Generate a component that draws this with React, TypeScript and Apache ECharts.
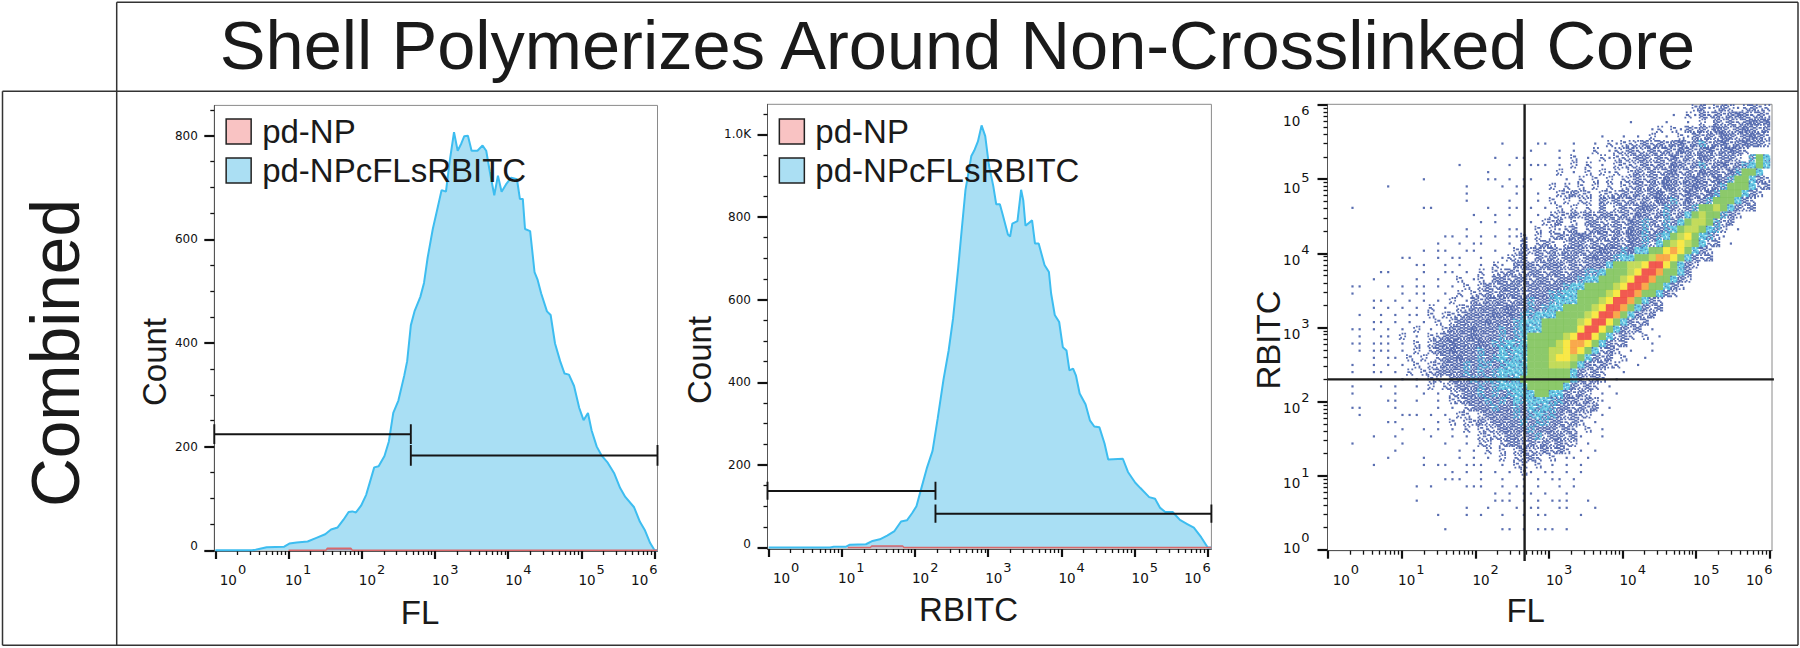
import React, { useEffect, useRef } from "react";
import * as echarts from "echarts";

// Values are given on the decade scale: 0 = 10^0, 6 = 10^6.
const legendNames = ["pd-NP", "pd-NPcFLsRBITC"];
const decades = [0, 1, 2, 3, 4, 5, 6];
const exponents = ["0", "1", "2", "3", "4", "5", "6"];
const minorFactors = [2, 3, 4, 5, 6, 7, 8, 9];
const xLabelPositions = [0.24, 1.13, 2.14, 3.14, 4.14, 5.14, 5.86];
const yLogLabelPositions = [0.1, 0.97, 1.98, 2.98, 3.98, 4.95, 5.85];

const flCurve = [
  [0, 0], [0.5, 0], [0.55, 1], [0.7, 6], [0.94, 7], [1.01, 13], [1.11, 15], [1.26, 17], [1.38, 24], [1.5, 31],
  [1.58, 40], [1.67, 44], [1.75, 59], [1.82, 74], [1.87, 75], [1.92, 73], [1.99, 86], [2.06, 107], [2.11, 131],
  [2.17, 160], [2.23, 162], [2.31, 182], [2.37, 210], [2.43, 265], [2.5, 289], [2.58, 337], [2.62, 365], [2.67, 434],
  [2.72, 461], [2.8, 489], [2.85, 516], [2.9, 565], [2.97, 620], [3.03, 657], [3.09, 695], [3.15, 692], [3.2, 750],
  [3.26, 807], [3.31, 771], [3.36, 785], [3.4, 799], [3.45, 800], [3.5, 771], [3.58, 771], [3.65, 781], [3.7, 771],
  [3.75, 730], [3.81, 685], [3.86, 723], [3.91, 692], [3.97, 706], [4.04, 719], [4.12, 716], [4.16, 678], [4.2, 678],
  [4.23, 620], [4.3, 616], [4.36, 537], [4.4, 523], [4.45, 496], [4.53, 461], [4.58, 454], [4.64, 399], [4.71, 365],
  [4.77, 341], [4.83, 339], [4.9, 317], [4.97, 275], [5.03, 251], [5.09, 265], [5.14, 231], [5.21, 200], [5.28, 182],
  [5.36, 169], [5.45, 148], [5.53, 120], [5.6, 103], [5.72, 83], [5.8, 55], [5.87, 38], [5.94, 14], [6, 0], [6.04, 0],
];
const rbitcCurve = [
  [0, 0], [0.84, 0], [0.89, 2], [1.06, 2], [1.11, 7], [1.33, 8], [1.42, 16], [1.52, 20], [1.62, 29], [1.72, 40],
  [1.81, 63], [1.89, 66], [1.96, 83], [2.02, 100], [2.08, 139], [2.16, 191], [2.24, 234], [2.31, 312], [2.39, 407],
  [2.46, 477], [2.52, 554], [2.59, 676], [2.63, 753], [2.69, 866], [2.77, 948], [2.81, 961], [2.86, 983], [2.91, 1022],
  [2.96, 996], [3.01, 926], [3.07, 875], [3.11, 831], [3.16, 831], [3.2, 805], [3.27, 758], [3.3, 753], [3.33, 784],
  [3.4, 790], [3.45, 866], [3.48, 840], [3.51, 779], [3.6, 792], [3.64, 736], [3.69, 736], [3.77, 684], [3.83, 667],
  [3.86, 615], [3.91, 563], [3.97, 546], [4.02, 485], [4.07, 477], [4.11, 429], [4.16, 433], [4.2, 416], [4.25, 373],
  [4.33, 347], [4.39, 308], [4.45, 293], [4.52, 291], [4.59, 252], [4.64, 213], [4.84, 215], [4.91, 183], [5.01, 157],
  [5.08, 144], [5.2, 122], [5.28, 118], [5.35, 96], [5.42, 86], [5.52, 86], [5.62, 67], [5.72, 57], [5.81, 48],
  [5.91, 25], [6, 0], [6.05, 0],
];
const controlFl = [[1, 0], [1.51, 0], [1.53, 4], [1.85, 4], [1.87, 0], [6.04, 0]];
const controlRbitc = [[1.08, 0], [1.39, 0], [1.41, 4], [1.83, 4], [1.85, 0], [6.05, 0]];

const gateFlLow = [[-0.015, 205], [-0.015, 243], [-0.015, 224], [2.67, 224], [2.67, 243], [2.67, 205]];
const gateFlHigh = [[2.67, 163], [2.67, 203], [2.67, 183], [6.04, 183], [6.04, 203], [6.04, 163]];
const gateRbitcLow = [[-0.015, 116], [-0.015, 159], [-0.015, 137], [2.28, 137], [2.28, 159], [2.28, 116]];
const gateRbitcHigh = [[2.28, 60], [2.28, 104], [2.28, 82], [6.05, 82], [6.05, 104], [6.05, 60]];
const crossVertical = [[2.67, -0.15], [2.67, 6.009]];
const crossHorizontal = [[-0.01, 2.3], [6.06, 2.3]];

const countTicksFl = [0, 200, 400, 600, 800];
const countMinorFl = [50, 100, 150, 250, 300, 350, 450, 500, 550, 650, 700, 750, 850];
const countLabelPosFl = [8, 200, 400, 600, 800];
const countLabelsFl = ["0", "200", "400", "600", "800"];
const countTicksRb = [0, 200, 400, 600, 800, 1000];
const countMinorRb = [50, 100, 150, 250, 300, 350, 450, 500, 550, 650, 700, 750, 850, 900, 950, 1050];
const countLabelPosRb = [9, 200, 400, 600, 800, 1000];
const countLabelsRb = ["0", "200", "400", "600", "800", "1.0K"];

// Density plot read cell by cell: each row (top to bottom) lists "firstColumn:levels".
// Levels: 1-4 blue, growing; 6 blue with cyan; 5 cyan; 7 green; 8 yellow-green; 9 yellow; o orange; r red; '.' empty.
const densityRows = [
  "51:23123212322",
  "48:1.213232343232",
  "42:1....1..1.2.32323434",
  "44:.12.21323243234323",
  "38:1..1.1.2.1.2132324323432",
  "24:1 29:1 30:1 34:1..1.2 40:1222 44:323234236234234332",
  "28:1 32:1.1..2.1.2.3 40:223 43:2232324323423432",
  "23:1 26:1 27:1 31:.1.2.1.2.2 39:1.2232 44:32324232432332 59:6 60:7 61:5",
  "18:1 25:1 28:1 29:1 30:1.1.2.2.1.2 41:2223232432362342 57:3 58:6575",
  "22:1 31:.2.1.2.1.2 38:212.232323423243 54:324 57:6775",
  "13:1 22:1 23:1 25:1 27:1 28:1 33:1.2.2.2.2 42:2323243234 52:3243 56:6775 60:32",
  "8:1 19:1 24:1 26:1 27:1 31:2.2.2.2.2.2 42:2323243234 52:323 55:67775 60:23",
  "19:1 26:1 29:1 31:.22322.222 41:3232342324 51:324 54:67775 59:32",
  "19:1 25:1 29:1 31:2.2.22.32 40:32323243624 51:23 53:67775 58:32",
  "3:1 13:1 14:1 22:1 25:1 26:1 28:1 30:1.2.2.2.3.2 41:323432632 50:3 51:6 52:7787 56:5 57:323",
  "20:1 23:1 25:1 29:1 31:22232323 39:3 40:2324323623 50:57877 55:6 56:32",
  "21:1 23:1 28:1 29:.223.2.3 37:32 39:23243632 47:63 49:57887 54:6 55:23",
  "19:1 25:1 26:1 29:2.2123.2 37:33 39:2324362 46:36 48:578875 54:62 57:1",
  "16:1 17:1 19:1 21:1 23:1 25:1 26:1 27:2 28:.2.232343 37:232 40:32436 45:3 46:6 47:578975 53:62 55:1",
  "15:1 18:1 20:1 21:1 25:1 27:3 28:.232.2332 37:323 40:3243 44:62 46:5789875 53:23 56:1",
  "13:1 15:1 16:1 19:1 20:1 23:1 26:232 28:.32323332 37:343 40:364 43:55779o975 52:32",
  "10:1 11:1 15:1 17:1 18:1 21:1 24:1 25:223 28:.3232332 36:3433 40:6 41:55778 46:oo975 51:323",
  "12:1 13:1 16:1 18:1 21:1 23:21.3 27:3 28:32333232 36:33 38:3 39:57788 44:9 45:rr 47:975 50:32",
  "7:1 8:1 13:1 16:1 17:1 19:1 21:2.223 26:2 27:233233233 36:6 37:6 38:57 40:778 43:9 44:rr 46:o 47:775 50:3",
  "6:1 12:1 15:1 18:2.12.3 24:3 25:233233233 34:362 36:55 38:77 40:78 42:9 43:rr 45:o 46:775 49:32",
  "3:1 4:1 8:1 10:1 12:1 13:1 15:1.1.2.22 22:3 23:2333233333 33:65 35:5 36:77 38:778 41:9 42:rr 44:o 45:775 48:32",
  "3:1 10:1 12:1 13:1 16:1.2.22.3 22:3 23:233323336 32:65 34:57 36:7778 40:9 41:rr 43:o 44:775 47:32",
  "6:1 7:1 9:1 11:1 13:1.1.2.1.22 20:3 21:2333233 28:6336 32:5 33:55 35:77 37:78 39:9 40:rr 42:o 43:75 45:32",
  "6:1 8:1 10:1 12:1.2.1.22 19:2 20:33333433 28:636 31:55 33:777 36:78 38:9 39:rr 41:o 42:75 44:323",
  "4:1 7:1 9:1 11:1 12:1.2.222 19:3 20:3334343 27:6 28:65 30:55 32:7777 36:8 37:9 38:rr 40:o 41:75 43:323",
  "6:1 7:1 9:1 11:1.1.2.22 18:3 19:33343 24:3363 27:55 29:5 30:7 31:7777 35:8 36:9 37:rr 39:975 42:323",
  "3:1 4:1 6:1 8:1.1.2.1.22 17:3 18:3343 22:3363 26:65 28:55 30:77777 35:9 36:rr 38:975 41:323 45:1",
  "4:1 7:1 8:1.2.1.22 15:2 16:33 18:3343 22:33 24:636 27:5 28:77777 33:8 34:9 35:rr 37:975 40:232 44:2 46:1",
  "3:1 4:1 6:1 7:1 8:1.1.2.22 15:3 16:3433 20:3436 24:656 27:5 28:77777 32:8 33:9 34:oo 36:975 39:323 45:1",
  "4:1 6:1 7:1 8:1.1.2.22 14:2 15:3343 19:3 20:3633 24:565 27:5 28:777 31:88 33:9o9 36:75 38:232 42:1 45:1",
  "6:1 8:1 9:1.2.2.2 15:2 16:3 17:343 20:36 22:36 24:565 27:5 28:777 31:899 34:8 35:75 37:323 41:2 44:1",
  "3:1 6:1 8:1.1.2.2 15:2 16:33 18:36 20:36 22:63 24:655 27:5 28:777 31:888 34:75 36:3232 40:2 43:1",
  "3:1 6:1 7:1 9:1.2.22 15:33 17:33 19:63 21:636 24:5 25:5 26:55 28:777777 34:5 35:3232 41:1",
  "10:1 12:1.22.3 17:33 19:36 21:36 23:656 26:5 27:7777777 34:5 35:3232 40:1",
  "3:1 7:1 9:1 12:1.2.2 17:23 19:3363 23:65 25:55 27:5 28:77777 33:5 34:3232 39:1",
  "3:1 9:1 13:1.1.2 18:2 19:3363 23:636 26:5 27:55 29:77 31:55 33:3232 38:1 40:1",
  "8:1 9:1 12:1 14:.1.2 18:2 19:3336 23:363 26:565 29:5 30:56 32:633 35:232 38:1",
  "3:1 4:1 9:1 15:1.1.2 20:3336 24:3363 28:565 31:63 33:323 36:23 39:1",
  "4:1 10:1 11:1 12:1 14:1.1.2 19:2.2 22:3333 26:63 28:656 31:6 32:323 35:22 38:1",
  "8:1 9:1 15:1.2.1 19:2 20:2323 24:3336 28:36 30:63 32:323 35:2 37:1",
  "10:1 13:1 15:1 17:1.2.2 22:22 24:3333 28:63 30:33 31:3232 35:.2 38:1",
  "6:1 9:1 14:1 17:1.1.2 22:22 24:23 26:32 28:3 29:623 32:323 35:1 38:1",
  "3:1 10:1 16:1 19:1.2 22:2.23 26:3 27:2 28:323 31:232 34:2 36:1",
  "9:1 18:1 20:1.2 23:.2.2 27:32 29:23 31:23 33:2 35:1.1",
  "8:1 13:1 18:1 20:1.1.2 25:.2 27:23 29:2.2 32:.1 34:1 36:1",
  "6:1 13:1 15:1 16:1 19:1 20:1 21:1 24:1.2 27:2 28:.2.1 31:1.1 33:1 35:1",
  "17:1 19:1 21:1 23:1 25:1.1 27:2 28:1.1 31:1.1.1 35:1",
  "16:1 17:1 18:1 21:1 24:1 27:1 29:1.1 32:1.1 34:1",
  "12:1 14:1 19:1 20:1 21:1 24:1 26:1 27:1 29:1 32:1 34:1",
  "23:1 25:1 27:1 28:1 30:1 33:1",
  "12:1 23:1 24:1 25:1 27:1 29:1 31:1 32:1 33:1 36:1",
  "19:1 22:1 26:1 28:1 29:1 32:1 33:1 37:1",
  "15:1 19:1 21:1 24:1 27:1 29:1 30:1 35:1",
  "",
  "16:1 24:1 25:1 27:1 29:1 30:1 31:1 33:1",
];

const levelOrder = ["1", "2", "3", "4", "5", "7", "8", "9", "o", "r"];
const CYAN_SPECK = 10;
const CYAN_DENSE = 11;
const levelColors = ["#2f4a9e", "#2f4a9e", "#2f4a9e", "#2f4a9e", "#4cc1de", "#6fbc46", "#b4d233", "#f6e21a", "#f7941f", "#ee3124", "#4fcbe6", "#4fc6e2"];
const levelSizes = [2.2, 7.2, 7.2, 7.2, 7.4, 7.4, 7.4, 7.4, 7.4, 7.4, 7.2, 7.2];
const DENSITY_COLUMNS = 62;
const DENSITY_X0 = -0.01;
const DENSITY_Y0 = 6.009;
const CELL_W = 20 / 206;
const CELL_H = 20 / 207.7;

// Speck tiles for the blue cloud (cells of a 5x5 tile, "xy").
const sparseTiles = [
  ["00", "21", "43", "14", "31", "02", "44"],
  ["40", "12", "33", "04", "22", "10", "44"],
  ["20", "01", "42", "34", "13", "40", "04"],
];
const mediumTiles = [
  ["00", "30", "40", "11", "21", "02", "32", "42", "13", "23", "04", "34", "44"],
  ["10", "30", "40", "01", "21", "02", "32", "42", "13", "23", "04", "14", "34"],
  ["00", "10", "31", "41", "12", "22", "03", "33", "43", "04", "24", "20", "44"],
];
const denseHoles = [
  ["11", "30", "23", "42", "04", "34", "22"],
  ["00", "21", "13", "44", "32", "40", "14"],
  ["20", "02", "33", "41", "14", "24", "12"],
];
const tilePath = (cells: string[]) =>
  "path://" + cells.map((s) => `M${s[0]} ${s[1]}h1.35v1.35h-1.35z`).join("");
const allTileCells = [0, 1, 2, 3, 4].flatMap((x) => [0, 1, 2, 3, 4].map((y) => `${x}${y}`));
const sparsePaths = sparseTiles.map(tilePath);
const mediumPaths = mediumTiles.map(tilePath);
const densePaths = denseHoles.map((holes) => tilePath(allTileCells.filter((s) => !holes.includes(s))));

function densitySymbol(v: number[]) {
  const level = v[2];
  const variant = v[3];
  if (level === 1 || level === CYAN_SPECK) return sparsePaths[variant];
  if (level === 2) return mediumPaths[variant];
  if (level === 3 || level === CYAN_DENSE) return densePaths[variant];
  return "rect";
}

function densityPoints() {
  const out: number[][] = [];
  densityRows.forEach((row, r) => {
    const cells = new Map<number, string>();
    row.split(" ").filter(Boolean).forEach((seg) => {
      const [start, chars] = seg.split(":");
      [...chars].forEach((ch, i) => {
        const c = Number(start) + i;
        if (ch !== "." && c < DENSITY_COLUMNS) cells.set(c, ch);
      });
    });
    cells.forEach((ch, c) => {
      const x = DENSITY_X0 + (c + 0.5) * CELL_W;
      const y = DENSITY_Y0 - (r + 0.5) * CELL_H;
      const variant = (c * 7 + r * 5) % 3;
      if (ch === "6") {
        out.push([x, y, 2, variant]);
        out.push([x, y, CYAN_SPECK, (variant + 1) % 3]);
      } else if (ch === "5") {
        out.push([x, y, 1, variant]);
        out.push([x, y, CYAN_DENSE, (variant + 1) % 3]);
      } else {
        out.push([x, y, levelOrder.indexOf(ch), variant]);
      }
    });
  });
  return out;
}

const FONT = "Liberation Sans";
const TICK_FONT = "DejaVu Sans";
const minorLog = decades.slice(0, 6).flatMap((d) => minorFactors.map((f) => d + Math.log10(f)));

const richLabels = {
  b: { fontFamily: TICK_FONT, fontSize: 13.5, color: "#111", lineHeight: 24, verticalAlign: "bottom" },
  s: { fontFamily: TICK_FONT, fontSize: 13, color: "#111", lineHeight: 14, verticalAlign: "top", padding: [0, 0, 0, 1] },
};
const powerLabel = (positions: number[]) => (v: number) => `{b|10}{s|${exponents[positions.indexOf(v)]}}`;

function tickAxis(kind: "x" | "y", o: any) {
  const tickLen = kind === "x" ? 8 : 10;
  return {
    type: "value",
    gridIndex: o.grid,
    min: o.min,
    max: o.max,
    position: kind === "x" ? "bottom" : "left",
    splitLine: { show: false },
    axisLine: { show: !o.minor, onZero: false, lineStyle: { color: "#555", width: 1 } },
    axisTick: {
      show: true,
      inside: false,
      length: o.minor ? 4 : tickLen,
      customValues: o.ticks,
      lineStyle: { color: "#111", width: o.minor ? 1.3 : 2.2 },
    },
    axisLabel: o.minor
      ? { show: false }
      : {
          show: true,
          customValues: o.labelAt,
          formatter: o.formatter,
          margin: o.margin,
          hideOverlap: false,
          showMinLabel: true,
          showMaxLabel: true,
          fontFamily: TICK_FONT,
          fontSize: 12,
          color: "#111",
          rich: richLabels,
        },
  };
}

function xAxes(grid: number, min: number, max: number) {
  return [
    tickAxis("x", { grid, min, max, ticks: decades, labelAt: xLabelPositions, formatter: powerLabel(xLabelPositions), margin: 12 }),
    tickAxis("x", { grid, min, max, ticks: minorLog, minor: true }),
  ];
}

function yCountAxes(grid: number, min: number, max: number, ticks: number[], minor: number[], at: number[], labels: string[]) {
  return [
    tickAxis("y", { grid, min, max, ticks, labelAt: at, formatter: (v: number) => labels[at.indexOf(v)], margin: 16.5 }),
    tickAxis("y", { grid, min, max, ticks: minor, minor: true }),
  ];
}

function histogram(idx: number, control: number[][], curve: number[][], gates: number[][][]) {
  const ref = { xAxisIndex: idx * 2, yAxisIndex: idx * 2 };
  return [
    {
      name: legendNames[1],
      type: "line",
      ...ref,
      data: curve,
      showSymbol: false,
      silent: true,
      clip: true,
      lineStyle: { color: "#3dbdf0", width: 2 },
      areaStyle: { color: "#a9dff4", opacity: 1 },
      z: 2,
    },
    {
      name: legendNames[0],
      type: "line",
      ...ref,
      data: control,
      showSymbol: false,
      silent: true,
      lineStyle: { color: "#d9686a", width: 1.4 },
      areaStyle: { color: "#a8607f", opacity: 0.7 },
      z: 3,
    },
    ...gates.map((g) => ({
      type: "line",
      ...ref,
      data: g,
      showSymbol: false,
      silent: true,
      clip: false,
      lineStyle: { color: "#151515", width: 1.9 },
      z: 5,
    })),
  ];
}

function legendFor(left: number, top: number) {
  return {
    left,
    top,
    orient: "vertical",
    padding: 0,
    itemWidth: 25,
    itemHeight: 25,
    itemGap: 6,
    selectedMode: false,
    z: 8,
    textStyle: { fontFamily: FONT, fontSize: 33, color: "#1a1a1a", lineHeight: 25, padding: [0, 0, 0, 6] },
    data: [
      { name: legendNames[0], icon: "rect", itemStyle: { color: "#f9c3c3", borderColor: "#222", borderWidth: 1.5 } },
      { name: legendNames[1], icon: "rect", itemStyle: { color: "#abdff3", borderColor: "#222", borderWidth: 1.5 } },
    ],
  };
}

function label(text: string, x: number, y: number, fontSize: number, rotation = 0) {
  return {
    type: "text",
    x,
    y,
    rotation,
    z: 20,
    style: { text, fontFamily: FONT, fontSize, fill: "#1a1a1a", textAlign: "center", textVerticalAlign: "middle" },
  };
}

function rule(x1: number, y1: number, x2: number, y2: number) {
  return {
    type: "line",
    z: 20,
    shape: { x1, y1, x2, y2 },
    style: { stroke: "#333", lineWidth: 1.5 },
  };
}

const gridBox = (left: number, top: number, right: number, bottom: number) => ({
  show: true,
  left,
  top,
  width: right - left,
  height: bottom - top,
  borderColor: "#8a8a8a",
  borderWidth: 1,
  backgroundColor: "#fff",
});

export default function App() {
  const ref = useRef<HTMLDivElement>(null);
  useEffect(() => {
    const chart = echarts.init(ref.current!, undefined, { renderer: "svg" });
    chart.setOption({
      animation: false,
      backgroundColor: "#fff",
      grid: [gridBox(214.3, 105.4, 657.5, 551), gridBox(767.5, 104.3, 1211.4, 549), gridBox(1327.5, 104.3, 1772, 550.7)],
      legend: [legendFor(225.4, 115), legendFor(778.6, 115)],
      xAxis: [...xAxes(0, -0.015, 6.04), ...xAxes(1, -0.015, 6.05), ...xAxes(2, -0.01, 6.034)],
      yAxis: [
        ...yCountAxes(0, -1.4, 858.5, countTicksFl, countMinorFl, countLabelPosFl, countLabelsFl),
        ...yCountAxes(1, -3.5, 1073, countTicksRb, countMinorRb, countLabelPosRb, countLabelsRb),
        tickAxis("y", { grid: 2, min: -0.01, max: 6.009, ticks: decades, labelAt: yLogLabelPositions, formatter: powerLabel(yLogLabelPositions), margin: 18 }),
        tickAxis("y", { grid: 2, min: -0.01, max: 6.009, ticks: minorLog, minor: true }),
      ],
      series: [
        ...histogram(0, controlFl, flCurve, [gateFlLow, gateFlHigh]),
        ...histogram(1, controlRbitc, rbitcCurve, [gateRbitcLow, gateRbitcHigh]),
        {
          type: "scatter",
          xAxisIndex: 4,
          yAxisIndex: 4,
          data: densityPoints(),
          symbol: densitySymbol,
          silent: true,
          symbolSize: (v: number[]) => levelSizes[v[2]],
          itemStyle: { color: (p: any) => levelColors[p.value[2]] },
          z: 2,
        },
        ...[crossVertical, crossHorizontal].map((d) => ({
          type: "line",
          xAxisIndex: 4,
          yAxisIndex: 4,
          data: d,
          showSymbol: false,
          silent: true,
          clip: false,
          lineStyle: { color: "#1c1c1c", width: 2.4 },
          z: 5,
        })),
      ],
      graphic: [
        rule(116.7, 2.3, 1798, 2.3),
        rule(2.5, 91.3, 1798, 91.3),
        rule(2.5, 645.3, 1798, 645.3),
        rule(2.5, 91.3, 2.5, 645.3),
        rule(116.7, 2.3, 116.7, 645.3),
        rule(1798, 2.3, 1798, 645.3),
        label("Shell Polymerizes Around Non-Crosslinked Core", 957.5, 45, 68.6),
        label("Combined", 55, 353, 67.6, Math.PI / 2),
        label("FL", 420, 612, 33),
        label("Count", 154, 362, 33, Math.PI / 2),
        label("RBITC", 968.6, 609, 33),
        label("Count", 699, 360, 33, Math.PI / 2),
        label("FL", 1525.7, 610, 33),
        label("RBITC", 1268.6, 340, 33, Math.PI / 2),
      ],
    });
    return () => chart.dispose();
  }, []);
  return <div ref={ref} style={{ position: "absolute", left: 0, top: 0, width: 1800, height: 648 }} />;
}
